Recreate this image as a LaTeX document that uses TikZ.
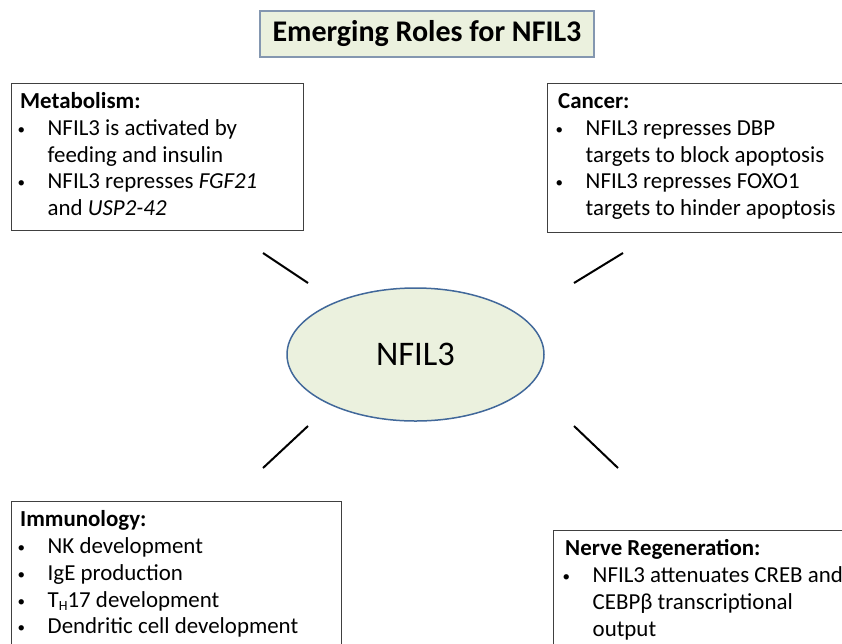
\documentclass[tikz,border=0pt]{standalone}
\usepackage{fontspec}
\setmainfont{Carlito}
\usetikzlibrary{shapes.geometric}
\definecolor{paleolive}{HTML}{EBF1DE}
\definecolor{ovalblue}{HTML}{41689A}
\definecolor{titleframe}{HTML}{8497B0}
\definecolor{boxframe}{HTML}{404040}
\newcommand{\bul}{\hspace*{-2.5pt}\makebox[30pt][l]{\raisebox{1pt}{\fontsize{15}{15}\selectfont\textbullet}}}
\newcommand{\cont}{\hspace*{27.5pt}}
\begin{document}
\begin{tikzpicture}[x=1pt,y=1pt]
	\tikzstyle{every node}+=[inner sep=0pt]
	\tikzstyle{rolebox}=[draw=boxframe, line width=1.2pt, anchor=north west]
	\tikzstyle{roletext}=[anchor=north west, align=left, font=\fontsize{22.9}{26.7}\selectfont]
	\tikzstyle{spoke}=[line width=2pt, black]
	\clip (0,0) rectangle (842,-643);
	\node [draw=titleframe, fill=paleolive, line width=1.2pt, minimum width=334pt, minimum height=46pt, font=\fontsize{30}{35}\selectfont\bfseries] (title) at (427,-34) {Emerging Roles for NFIL3};
	\node [ellipse, draw=ovalblue, fill=paleolive, line width=1.5pt, minimum width=257pt, minimum height=133pt, font=\fontsize{34.5}{40}\selectfont] (core) at (415.5,-354.5) {NFIL3};
	\node [rolebox, minimum width=292pt, minimum height=147pt] (metab) at (11,-83) {};
	\node [roletext] (metabtext) at ([shift={(9,-7)}]metab.north west) {\strut\textbf{Metabolism:}\\ \bul NFIL3 is activated by\\ \cont feeding and insulin\\ \bul NFIL3 represses \textit{FGF21}\\ \cont and \textit{USP2-42}};
	\node [rolebox, minimum width=320pt, minimum height=149pt] (cancer) at (547,-83) {};
	\node [roletext] (cancertext) at ([shift={(11,-7)}]cancer.north west) {\strut\textbf{Cancer:}\\ \bul NFIL3 represses DBP\\ \cont targets to block apoptosis\\ \bul NFIL3 represses FOXO1\\ \cont targets to hinder apoptosis};
	\node [rolebox, minimum width=330pt, minimum height=160pt] (immuno) at (11,-501) {};
	\node [roletext] (immunotext) at ([shift={(9,-7)}]immuno.north west) {\strut\textbf{Immunology:}\\ \bul NK development\\ \bul IgE production\\ \bul T\raisebox{-3pt}{\fontsize{14}{14}\selectfont H}17 development\\ \bul Dendritic cell development};
	\node [rolebox, minimum width=300pt, minimum height=130pt] (nerve) at (553,-530) {};
	\node [roletext] (nervetext) at ([shift={(12,-7)}]nerve.north west) {\strut\textbf{Nerve Regeneration:}\\ \bul NFIL3 attenuates CREB and\\ \cont CEBPβ transcriptional\\ \cont output};
	\coordinate (tlout) at (263,-253);
	\coordinate (tlin) at (308,-283);
	\coordinate (trin) at (574,-283);
	\coordinate (trout) at (623,-253);
	\coordinate (blin) at (308,-426);
	\coordinate (blout) at (263,-468);
	\coordinate (brin) at (574,-426);
	\coordinate (brout) at (618,-468);
	\draw [spoke] (tlout) -- (tlin);
	\draw [spoke] (trin) -- (trout);
	\draw [spoke] (blin) -- (blout);
	\draw [spoke] (brin) -- (brout);
\end{tikzpicture}
\end{document}
